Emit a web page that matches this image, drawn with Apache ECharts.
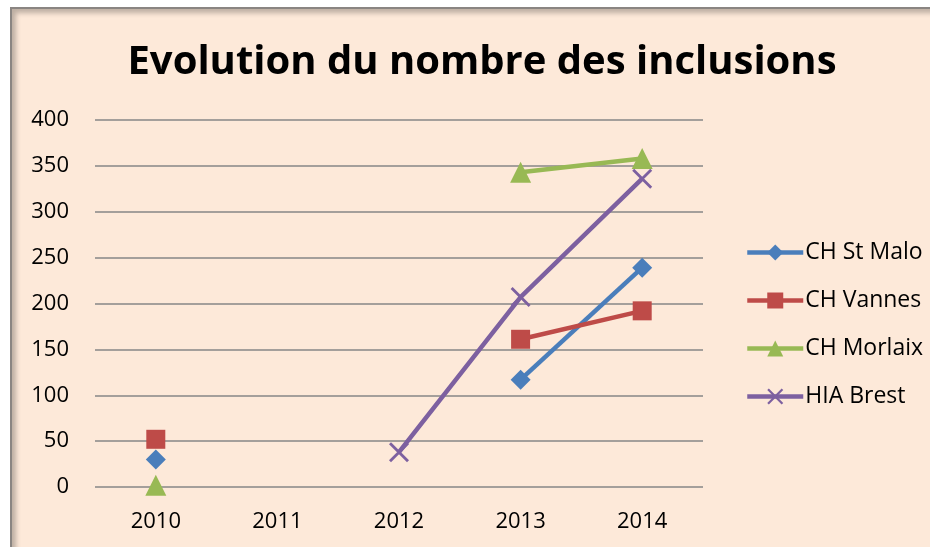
<!DOCTYPE html>
<html>
<head>
<meta charset="utf-8">
<script src="https://cdn.jsdelivr.net/npm/echarts@6/dist/echarts.min.js"></script>
<style>
  html, body { margin: 0; padding: 0; background: #ffffff; }
  #wrap { position: relative; width: 930px; height: 547px; overflow: hidden; }
  #frame {
    position: absolute; left: 10px; top: 7px; width: 940px; height: 560px;
    background: #FDE9D9;
    border-left: 2px solid #8a8582; border-top: 2px solid #8a8582;
    box-shadow: inset 4px 4px 5px rgba(0,0,0,0.25);
  }
  #main { position: absolute; left: 0; top: 0; width: 930px; height: 547px; }
</style>
</head>
<body>
<div id="wrap">
  <div id="frame"></div>
  <div id="main"></div>
</div>
<script>
var years = ['2010', '2011', '2012', '2013', '2014']
var stMalo = [30, null, null, 117, 239]
var vannes = [52, null, null, 161, 192]
var morlaix = [2, null, null, 343, 358]
var hiaBrest = [null, null, 38, 207, 336]

var crossPath = 'path://M0,1 L1,0 L10,9 L9,10 Z M9,0 L10,1 L1,10 L0,9 Z'

var chart = echarts.init(document.getElementById('main'))
chart.setOption({
  backgroundColor: 'transparent',
  animation: false,
  title: {
    text: 'Evolution du nombre des inclusions',
    left: 477,
    top: 38,
    textAlign: 'center',
    textStyle: {
      fontFamily: 'Open Sans',
      fontWeight: 'bold',
      fontSize: 40,
      color: '#000'
    }
  },
  legend: {
    orient: 'vertical',
    left: 740,
    top: 236,
    itemWidth: 56,
    itemHeight: 20,
    itemGap: 25,
    lineStyle: { width: 4.5 },
    textStyle: { fontFamily: 'Open Sans', fontSize: 23, color: '#000', padding: [0, 0, 0, -3] },
    data: ['CH St Malo', 'CH Vannes', 'CH Morlaix', 'HIA Brest']
  },
  grid: {
    left: 95,
    right: 227,
    top: 120,
    bottom: 60,
    containLabel: false
  },
  xAxis: {
    type: 'category',
    data: years,
    boundaryGap: true,
    axisLine: { show: false },
    axisTick: { show: false },
    axisLabel: { fontFamily: 'Open Sans', fontSize: 22, color: '#000', margin: 24 }
  },
  yAxis: {
    type: 'value',
    min: 0,
    max: 400,
    interval: 50,
    axisLine: { show: false },
    axisTick: { show: false },
    axisLabel: { fontFamily: 'Open Sans', fontSize: 22, color: '#000', margin: 26 },
    splitLine: { lineStyle: { color: '#868686', width: 1.5 } }
  },
  series: [
    {
      name: 'CH St Malo',
      type: 'line',
      data: stMalo,
      symbol: 'diamond',
      symbolSize: 20,
      showAllSymbol: true,
      lineStyle: { color: '#4A7EBB', width: 4.5 },
      itemStyle: { color: '#4A7EBB' }
    },
    {
      name: 'CH Vannes',
      type: 'line',
      data: vannes,
      symbol: 'rect',
      symbolSize: 19,
      showAllSymbol: true,
      lineStyle: { color: '#BE4B48', width: 4.5 },
      itemStyle: { color: '#BE4B48' }
    },
    {
      name: 'CH Morlaix',
      type: 'line',
      data: morlaix,
      symbol: 'triangle',
      symbolSize: 21,
      showAllSymbol: true,
      lineStyle: { color: '#98B954', width: 4.5 },
      itemStyle: { color: '#98B954' }
    },
    {
      name: 'HIA Brest',
      type: 'line',
      data: hiaBrest,
      symbol: crossPath,
      symbolSize: 20,
      showAllSymbol: true,
      lineStyle: { color: '#7D60A0', width: 4.5 },
      itemStyle: { color: '#7D60A0' }
    }
  ]
})
</script>
</body>
</html>
